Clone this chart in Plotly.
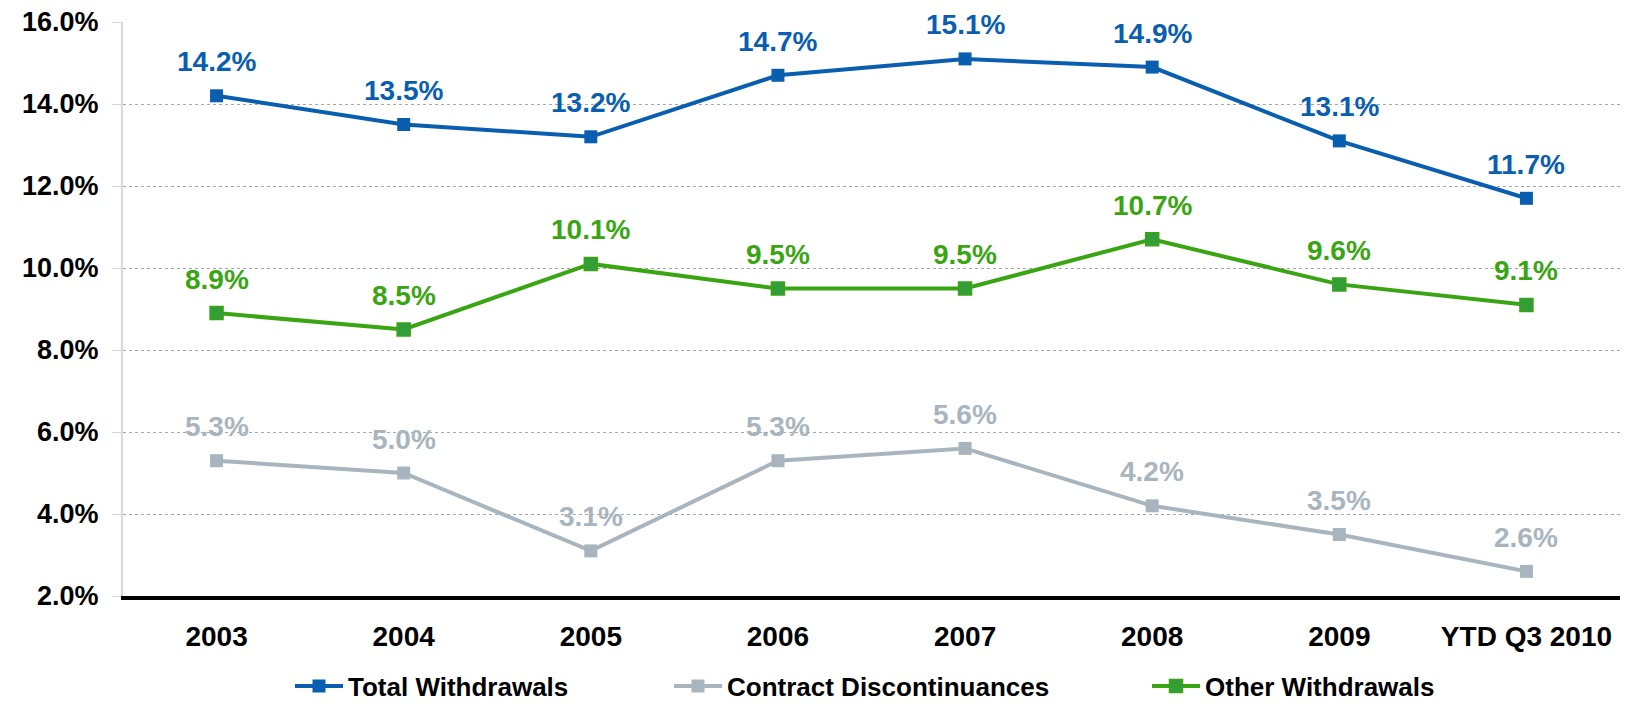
import plotly.graph_objects as go

# Withdrawal rates by year (percent)
categories = ["2003", "2004", "2005", "2006", "2007", "2008", "2009", "YTD Q3 2010"]
total_withdrawals = [14.2, 13.5, 13.2, 14.7, 15.1, 14.9, 13.1, 11.7]
contract_discontinuances = [5.3, 5.0, 3.1, 5.3, 5.6, 4.2, 3.5, 2.6]
other_withdrawals = [8.9, 8.5, 10.1, 9.5, 9.5, 10.7, 9.6, 9.1]
y_ticks = [2, 4, 6, 8, 10, 12, 14, 16]

BLUE = "#0a5eb0"
GREY = "#a9b5be"
GREEN = "#3aa512"
GREEN_FILL = "#2f9950"
FONT = "Liberation Sans, Arial, sans-serif"

series = [
    ("Total Withdrawals", total_withdrawals, BLUE,
     dict(symbol="square", size=13, color=BLUE, line=dict(width=0)), "legend", 298),
    ("Contract Discontinuances", contract_discontinuances, GREY,
     dict(symbol="square", size=13, color=GREY, line=dict(width=0)), "legend2", 677),
    ("Other Withdrawals", other_withdrawals, GREEN,
     dict(symbol="square-x", size=13, color=GREEN_FILL, line=dict(width=1.5, color=GREEN)), "legend3", 1155),
]

fig = go.Figure()
W, H = 1625, 704

legend_layouts = {}
for name, vals, color, marker, leg, lx in series:
    fig.add_trace(go.Scatter(
        x=categories, y=vals, name=name, mode="lines+markers",
        line=dict(color=color, width=4), marker=marker,
        legend=leg, hoverinfo="skip",
    ))
    legend_layouts[leg] = dict(
        xref="container", yref="container",
        x=(lx - 8) / W, y=1 - 686 / H, xanchor="left", yanchor="middle",
        orientation="h", bgcolor="rgba(0,0,0,0)",
        font=dict(family=FONT, size=26, color="#000000", weight="bold"),
        itemwidth=48,
    )
    # value labels above each point (x given as category index)
    for i, v in enumerate(vals):
        fig.add_annotation(
            x=i, y=v, xref="x", yref="y", text=f"{v:.1f}%", showarrow=False,
            yshift=34, font=dict(family=FONT, size=28, color=color, weight="bold"),
        )

fig.update_layout(
    width=W, height=H,
    margin=dict(l=123, r=5, t=22, b=108),
    paper_bgcolor="white", plot_bgcolor="white",
    font=dict(family=FONT, color="#000000", weight="bold"),
    showlegend=True,
    **legend_layouts,
)

fig.update_xaxes(
    type="category", categoryorder="array", categoryarray=categories,
    range=[-0.5, len(categories) - 0.5], autorange=False,
    showgrid=False, ticks="", showline=True, linecolor="#000000", linewidth=4,
    tickfont=dict(family=FONT, size=28, color="#000000", weight="bold"),
    ticklabelstandoff=12,
)
fig.update_yaxes(
    range=[2, 16], autorange=False, tickvals=y_ticks, ticktext=[f"{t:.1f}%" for t in y_ticks],
    showgrid=True, gridcolor="#a6a6a6", griddash="dot", gridwidth=1,
    ticks="outside", ticklen=9, tickcolor="#d4d4d4", tickwidth=1,
    showline=True, linecolor="#d9d9d9", linewidth=2,
    tickfont=dict(family=FONT, size=27, color="#000000", weight="bold"),
    ticklabelstandoff=8,
    zeroline=False,
)

fig.write_html("out.html")
